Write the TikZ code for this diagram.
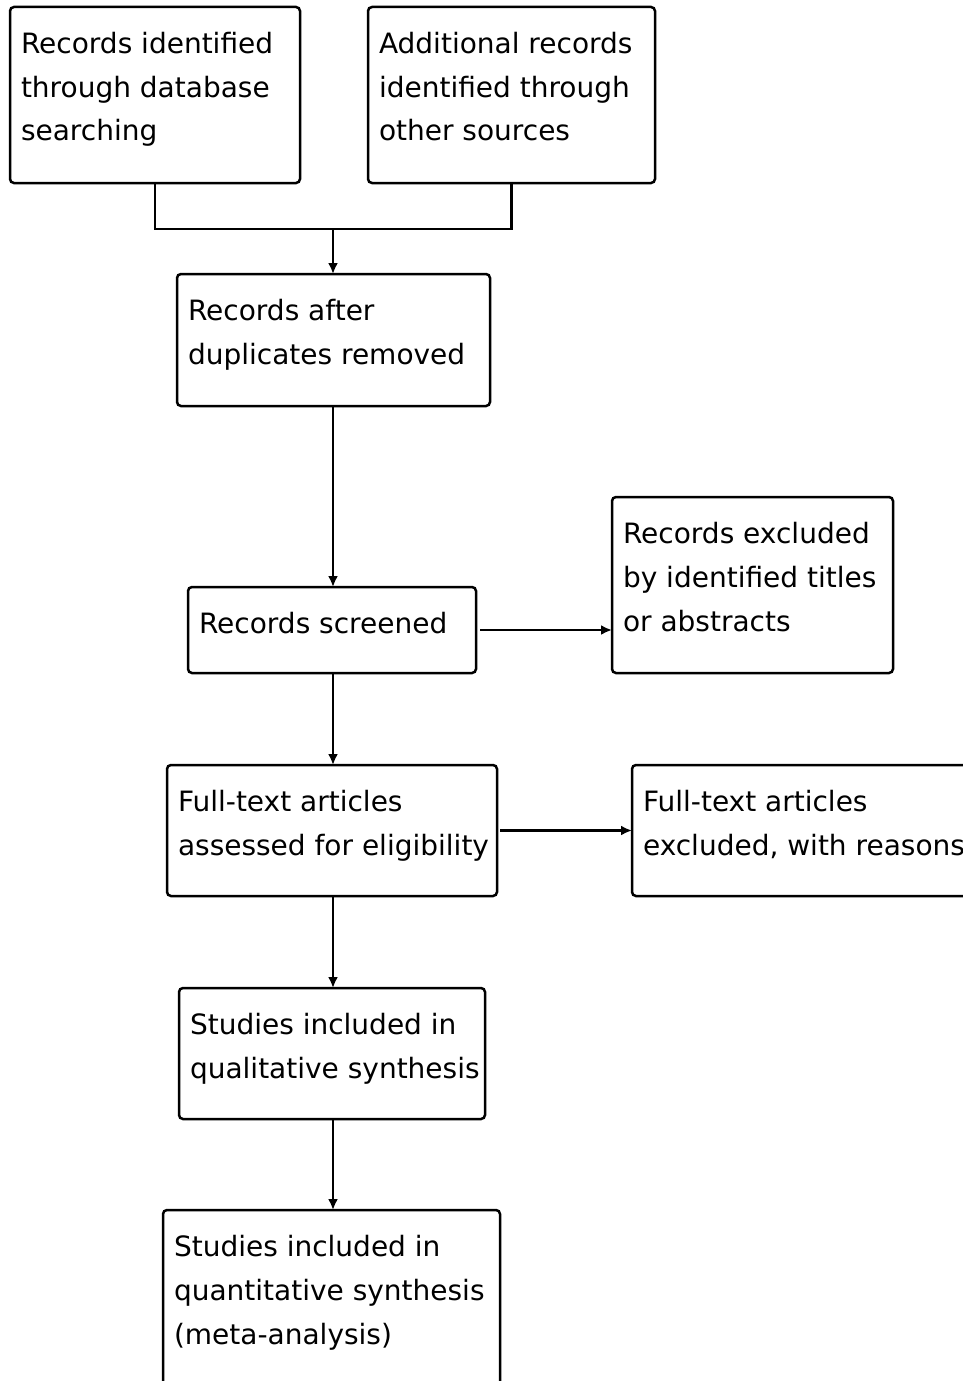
\documentclass[tikz,border=0pt]{standalone}
\usepackage{fontspec}
\setmainfont{DejaVu Sans}
\usetikzlibrary{arrows.meta}
\newcommand{\boxtext}[3]{\parbox[c][#1pt][t]{#2pt}{\leftskip=10pt\rightskip=0pt plus 1fil\parfillskip=0pt plus 1fil\fontsize{28}{44}\selectfont\rule{0pt}{46pt}#3}}
\hbadness=10000
\hfuzz=80pt
\tikzset{
  flowbox/.style={rectangle, rounded corners=4pt,
    draw=black, line width=2.5pt, inner sep=0pt, outer sep=0pt, anchor=north west},
  conn/.style={line width=2.5pt, draw=black},
  arr/.style={conn, -{Latex[length=11pt,width=10pt]}}
}
\begin{document}
\begin{tikzpicture}[x=1pt,y=-1pt]
\clip (0,0) rectangle (963,1381);
\fill[white] (0,0) rectangle (963,1381);
\node[flowbox, minimum width=290pt, minimum height=176pt] (b1) at (10,7)
  {\boxtext{176}{288}{Records identified\\through database\\searching}};
\node[flowbox, minimum width=287pt, minimum height=176pt] (b2) at (368,7)
  {\boxtext{176}{285}{Additional records\\identified through\\other sources}};
\node[flowbox, minimum width=313pt, minimum height=132pt] (b3) at (177,274)
  {\boxtext{132}{311}{Records after\\duplicates removed}};
\node[flowbox, minimum width=288pt, minimum height=86pt] (b4) at (188,587)
  {\boxtext{86}{286}{Records screened}};
\node[flowbox, minimum width=281pt, minimum height=176pt] (b5) at (612,497)
  {\boxtext{176}{279}{Records excluded\\by identified titles\\or abstracts}};
\node[flowbox, minimum width=330pt, minimum height=131pt] (b6) at (167,765)
  {\boxtext{131}{328}{Full-text articles\\assessed for eligibility}};
\node[flowbox, minimum width=360pt, minimum height=131pt] (b7) at (632,765)
  {\boxtext{131}{358}{Full-text articles\\excluded, with reasons}};
\node[flowbox, minimum width=306pt, minimum height=131pt] (b8) at (179,988)
  {\boxtext{131}{304}{Studies included in\\qualitative synthesis}};
\node[flowbox, minimum width=337pt, minimum height=176pt] (b9) at (163,1210)
  {\boxtext{176}{335}{Studies included in\\quantitative synthesis\\(meta-analysis)}};
\coordinate (j) at (333,229);
\draw[conn] (b1.south) |- (j) -| (b2.south);
\draw[arr] (j) -- (j |- b3.north);
\draw[arr] (b3.south -| j) -- (b4.north -| j);
\draw[arr] ([xshift=4pt]b4.east) -- (b4.east -| b5.west);
\draw[arr] ([xshift=3pt]b6.east) -- (b6.east -| b7.west);
\draw[arr] (b4.south -| j) -- (b6.north -| j);
\draw[arr] (b6.south -| j) -- (b8.north -| j);
\draw[arr] (b8.south -| j) -- (b9.north -| j);
\end{tikzpicture}
\end{document}
